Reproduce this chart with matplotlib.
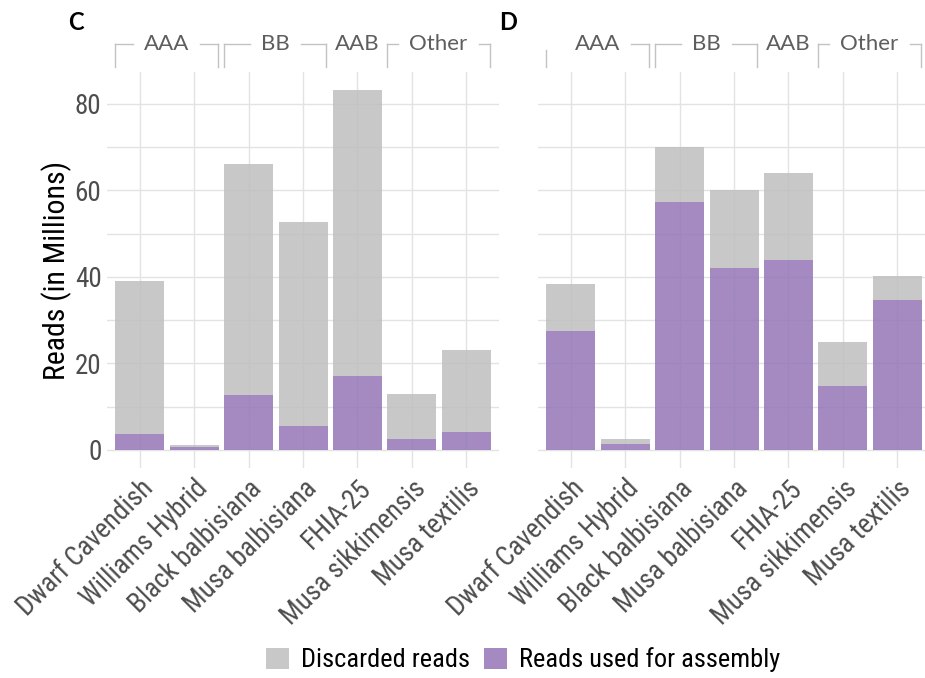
import matplotlib.pyplot as plt
from matplotlib.patches import Patch
from matplotlib.lines import Line2D
import matplotlib.transforms as mtransforms

# Read counts per accession (millions)
accessions = ['Dwarf Cavendish', 'Williams Hybrid', 'Black balbisiana', 'Musa balbisiana',
              'FHIA-25', 'Musa sikkimensis', 'Musa textilis']
genome_groups = ['AAA', 'BB', 'AAB', 'Other']
group_sizes = [2, 2, 1, 2]

total_c = [39.0, 1.2, 66.2, 52.8, 83.2, 13.0, 23.2]
used_c = [3.6, 0.6, 12.8, 5.5, 17.2, 2.6, 4.2]

total_d = [38.3, 2.5, 70.1, 60.2, 64.1, 24.9, 40.1]
used_d = [27.4, 1.4, 57.4, 42.0, 43.8, 14.8, 34.7]

grey = '#bfbfbf'
purple = '#9476b7'
narrow = dict(family=['Roboto Condensed', 'DejaVu Sans'], stretch='condensed')
strip_font = ['Lato', 'DejaVu Sans']

W, H = 925, 678
fig = plt.figure(figsize=(W / 100, H / 100), dpi=100)
fig.patch.set_facecolor('white')
renderer = fig.canvas.get_renderer()


def px_box(left, right, top, bottom):
    return [left / W, (H - bottom) / H, (right - left) / W, (bottom - top) / H]


def draw_panel(ax, total, used, letter, show_y, clip_first=False):
    x = list(range(len(accessions)))
    discarded = [t - u for t, u in zip(total, used)]
    ax.bar(x, used, width=0.9, color=purple, alpha=0.85, zorder=2)
    ax.bar(x, discarded, bottom=used, width=0.9, color=grey, alpha=0.85, zorder=2)

    ax.set_xlim(-0.6, 6.6)
    ax.set_ylim(-4.16, 87.36)
    ax.set_yticks([0, 20, 40, 60, 80])
    ax.set_yticks([10, 30, 50, 70], minor=True)
    ax.set_xticks(x)
    ax.set_axisbelow(True)
    ax.grid(True, which='major', color='#e3e3e3', lw=1.0, zorder=0)
    ax.grid(True, which='minor', axis='y', color='#e3e3e3', lw=1.0, zorder=0)
    for s in ax.spines.values():
        s.set_visible(False)
    ax.tick_params(which='both', length=0)
    ax.tick_params(axis='y', pad=4)
    ax.tick_params(axis='x', pad=5)

    ax.set_xticklabels(accessions, rotation=45, ha='right', va='top',
                       rotation_mode='anchor', fontsize=19.5,
                       color='#4d4d4d', **narrow)
    if show_y:
        ax.set_yticklabels(['0', '20', '40', '60', '80'],
                           fontsize=19.5, color='#4d4d4d', **narrow)
        ax.set_ylabel('Reads (in Millions)', fontsize=21.5,
                      color='black', labelpad=2, **narrow)
    else:
        ax.set_yticklabels([])

    # genome group brackets above the bars, broken around the label
    trans = mtransforms.blended_transform_factory(ax.transData, ax.transAxes)
    px_per_unit = ax.get_window_extent().width / 7.2
    y_line, y_foot = 1.0707, 1.0126
    lkw = dict(color='#c2c2c2', lw=1.0, transform=trans, clip_on=False)
    start = 0
    for gi, (name, n) in enumerate(zip(genome_groups, group_sizes)):
        x0, x1 = start - 0.45, start + n - 1 + 0.43
        xm = (x0 + x1) / 2
        t = ax.text(xm, y_line, name, transform=trans, ha='center', va='center',
                    family=strip_font, fontsize=16, color='#5e5e5e', clip_on=False)
        if n > 1:
            half = (t.get_window_extent(renderer).width / 2 + 11) / px_per_unit
            if clip_first and gi == 0:
                ax.add_line(Line2D([x0, x0], [y_line - 0.015, y_foot], **lkw))
            else:
                ax.add_line(Line2D([x0, x0], [y_line, y_foot], **lkw))
                ax.add_line(Line2D([x0, xm - half], [y_line, y_line], **lkw))
            ax.add_line(Line2D([xm + half, x1], [y_line, y_line], **lkw))
            ax.add_line(Line2D([x1, x1], [y_line, y_foot], **lkw))
        start += n

    bb = ax.get_position()
    fig.text(bb.x0 - 39 / W, (H - 22) / H, letter, family=strip_font,
             fontweight='bold', fontsize=17, ha='left', va='center')


axC = fig.add_axes(px_box(107, 499, 72, 468))
axD = fig.add_axes(px_box(538, 930, 72, 468))
draw_panel(axC, total_c, used_c, 'C', True)
draw_panel(axD, total_d, used_d, 'D', False, clip_first=True)

handles = [Patch(facecolor=grey, alpha=0.85), Patch(facecolor=purple, alpha=0.85)]
fig.legend(handles, ['Discarded reads', 'Reads used for assembly'],
           loc='center', bbox_to_anchor=(523 / W, (H - 660) / H), ncol=2,
           frameon=False, handlelength=0.88, handleheight=0.88,
           handletextpad=0.45, columnspacing=0.55,
           prop=dict(size=19, **narrow))

fig.savefig('out.png', dpi=100, facecolor='white')
